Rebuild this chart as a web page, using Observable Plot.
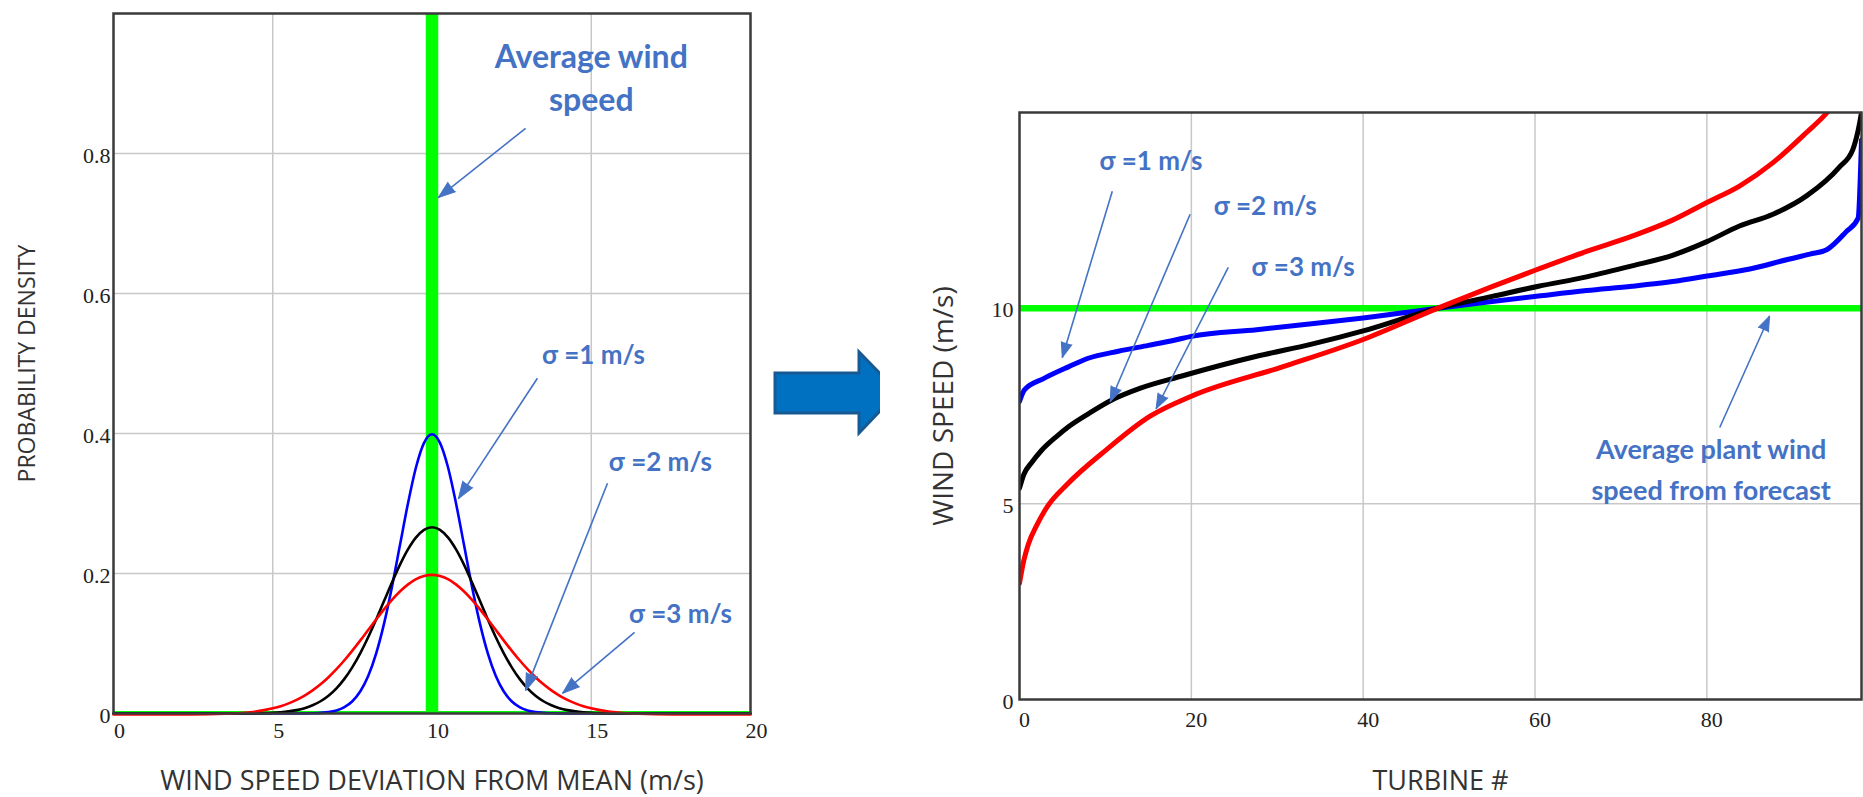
<!DOCTYPE html>
<html>
<head>
<meta charset="utf-8">
<script src="https://cdn.jsdelivr.net/npm/d3@7"></script>
<script src="https://cdn.jsdelivr.net/npm/@observablehq/plot@0.6"></script>
<style>
  html, body { margin: 0; padding: 0; background: #fff; }
  #wrap { position: relative; width: 1863px; height: 797px; overflow: hidden; background: #fff; }
  #left { position: absolute; left: 0; top: 0; }
  #right { position: absolute; left: 880px; top: 0; }
  #bigArrow { position: absolute; left: 760px; top: 340px; }
</style>
</head>
<body>
<div id="wrap">
  <div id="left"></div>
  <div id="bigArrow">
    <svg width="150" height="110" viewBox="0 0 150 110">
      <polygon points="15,33 99,33 99,12 138,52 99,93 99,73 15,73" fill="#0070c0" stroke="#175a93" stroke-width="3" stroke-linejoin="miter"/>
    </svg>
  </div>
  <div id="right"></div>
</div>
<script>
// ---------------- Left chart data: probability density vs wind speed ----------------
const deviationX = [0, 1, 2, 3, 3.5, 4, 4.5,
  5, 5.25, 5.5, 5.75, 6, 6.25, 6.5, 6.75, 7, 7.25, 7.5, 7.75, 8, 8.25, 8.5, 8.75, 9, 9.25, 9.5, 9.75,
  10, 10.25, 10.5, 10.75, 11, 11.25, 11.5, 11.75, 12, 12.25, 12.5, 12.75, 13, 13.25, 13.5, 13.75, 14, 14.25, 14.5, 14.75, 15,
  15.5, 16, 16.5, 17, 18, 19, 20];
const densitySigma1 = [0, 0, 0, 0, 0, 0, 0,
  0, 0, 0, 0.0001, 0.0001, 0.0004, 0.0009, 0.0020, 0.0044, 0.0091, 0.0175, 0.0317, 0.0540, 0.0863, 0.1295, 0.1826, 0.2420, 0.3011, 0.3521, 0.3867,
  0.3989, 0.3867, 0.3521, 0.3011, 0.2420, 0.1826, 0.1295, 0.0863, 0.0540, 0.0317, 0.0175, 0.0091, 0.0044, 0.0020, 0.0009, 0.0004, 0.0001, 0.0001, 0, 0, 0,
  0, 0, 0, 0, 0, 0, 0];
const densitySigma2 = [0, 0, 0, 0, 0, 0.0001, 0.0003,
  0.0010, 0.0018, 0.0030, 0.0048, 0.0076, 0.0117, 0.0175, 0.0254, 0.0360, 0.0495, 0.0663, 0.0863, 0.1093, 0.1347, 0.1613, 0.1879, 0.2130, 0.2347, 0.2516, 0.2623,
  0.2660, 0.2623, 0.2516, 0.2347, 0.2130, 0.1879, 0.1613, 0.1347, 0.1093, 0.0863, 0.0663, 0.0495, 0.0360, 0.0254, 0.0175, 0.0117, 0.0076, 0.0048, 0.0030, 0.0018, 0.0010,
  0.0003, 0.0001, 0, 0, 0, 0, 0];
const densitySigma3 = [0, 0, 0.0001, 0.0004, 0.0010, 0.0022, 0.0045,
  0.0088, 0.0119, 0.0159, 0.0209, 0.0270, 0.0344, 0.0431, 0.0533, 0.0648, 0.0775, 0.0913, 0.1059, 0.1210, 0.1360, 0.1506, 0.1641, 0.1760, 0.1859, 0.1933, 0.1979,
  0.1995, 0.1979, 0.1933, 0.1859, 0.1760, 0.1641, 0.1506, 0.1360, 0.1210, 0.1059, 0.0913, 0.0775, 0.0648, 0.0533, 0.0431, 0.0344, 0.0270, 0.0209, 0.0159, 0.0119, 0.0088,
  0.0045, 0.0022, 0.0010, 0.0004, 0.0001, 0, 0];
const averageWindSpeed = 10;
const leftXTicks = [0, 5, 10, 15, 20];
const leftYTicks = [0, 0.2, 0.4, 0.6, 0.8];
const leftXTitle = "WIND SPEED DEVIATION FROM MEAN (m/s)";
const leftYTitle = "PROBABILITY DENSITY";

// annotation texts (data coordinates of the left chart)
const leftBigNote = [{text: "Average wind\nspeed", x: 15.0, y: 0.861}];
const leftSigmaNotes = [
  {text: "σ =1 m/s", x: 15.07, y: 0.50},
  {text: "σ =2 m/s", x: 17.17, y: 0.346},
  {text: "σ =3 m/s", x: 17.8, y: 0.13}
];
const leftArrows = [
  {x1: 12.94, y1: 0.836, x2: 10.2, y2: 0.737},
  {x1: 13.31, y1: 0.479, x2: 10.83, y2: 0.307},
  {x1: 15.51, y1: 0.329, x2: 12.94, y2: 0.033},
  {x1: 16.36, y1: 0.116, x2: 14.1, y2: 0.029}
];

// ---------------- Right chart data: sorted turbine wind speeds ----------------
const turbineSigma1 = [0, 0.6, 2.8, 5.7, 8, 11.5, 15, 18, 20, 27.6, 34, 40, 48.7, 55, 60.4, 66, 71.3, 76, 80, 85, 89.5, 92, 94, 96.2, 97.6, 98];
const speedSigma1 = [7.62, 7.92, 8.2, 8.5, 8.72, 8.9, 9.05, 9.18, 9.28, 9.45, 9.6, 9.75, 10.0, 10.17, 10.31, 10.45, 10.56, 10.68, 10.82, 11.0, 11.25, 11.38, 11.5, 11.95, 12.3, 14.3];
const turbineSigma2 = [0, 0.5, 1.4, 2.5, 4.3, 5.7, 8, 10.8, 14, 18.8, 27.6, 34, 40, 48.7, 55, 60.4, 66, 71.3, 76, 80, 83.8, 87.7, 91.6, 95.4, 97, 97.8, 98];
const speedSigma2 = [5.4, 5.75, 6.05, 6.35, 6.72, 6.97, 7.3, 7.66, 7.95, 8.26, 8.77, 9.08, 9.42, 10.0, 10.3, 10.56, 10.8, 11.08, 11.35, 11.7, 12.1, 12.4, 12.87, 13.6, 14.06, 14.75, 15];
const turbineSigma3 = [0, 0.5, 1, 2, 3, 5.7, 10.1, 15.2, 20, 30.6, 40, 48.7, 55, 60.4, 66, 71.3, 76, 80, 83.8, 87.7, 91.6, 94, 96];
const speedSigma3 = [2.97, 3.55, 3.95, 4.45, 4.85, 5.53, 6.38, 7.24, 7.75, 8.5, 9.2, 10.0, 10.55, 11.0, 11.45, 11.84, 12.25, 12.7, 13.12, 13.72, 14.49, 15.0, 15.6];
const plantForecastSpeed = 10;
const rightXTicks = [0, 20, 40, 60, 80];
const rightYTicks = [0, 5, 10];
const rightXTitle = "TURBINE #";
const rightYTitle = "WIND SPEED (m/s)";

const rightSigmaNotes = [
  {text: "σ =1 m/s", x: 15.3, y: 13.52},
  {text: "σ =2 m/s", x: 28.6, y: 12.37},
  {text: "σ =3 m/s", x: 33.0, y: 10.83}
];
const rightPlantNote = [{text: "Average plant wind\nspeed from forecast", x: 80.5, y: 5.1}];
const rightArrows = [
  {x1: 10.8, y1: 12.99, x2: 4.98, y2: 8.74},
  {x1: 19.86, y1: 12.4, x2: 10.56, y2: 7.61},
  {x1: 24.3, y1: 11.04, x2: 15.9, y2: 7.43},
  {x1: 81.5, y1: 6.95, x2: 87.3, y2: 9.8}
];

// ---------------- styling ----------------
const GREEN = "#00ff00", BLUE = "#0000ff", RED = "#ff0000", BLACK = "#000000";
const NOTE = "#4472c4";
const GRID = "#c8c8c8";
const TICK_FONT = "'Liberation Serif', 'Times New Roman', serif";
const TITLE_FONT = "'Open Sans', 'Noto Sans', sans-serif";
const NOTE_FONT = "Lato, 'Noto Sans', sans-serif";
const plainNumber = d => String(d);

function series(xs, ys) { return xs.map((x, i) => ({x, y: ys[i]})); }

function heads(arrows, X, Y, length, r) {
  return Plot.vector(arrows, {
    x: "x2", y: "y2",
    rotate: d => {
      const dx = X(d.x2) - X(d.x1), dy = Y(d.y2) - Y(d.y1);
      return Math.atan2(dx, -dy) * 180 / Math.PI;
    },
    length, r, shape: "spike", anchor: "end",
    fill: NOTE, stroke: NOTE, strokeWidth: 1, fillOpacity: 1
  });
}

// ---------------- Left chart ----------------
{
  const W = 780, H = 797, mL = 113, mR = 30, mT = 13, mB = 84;
  const X = d3.scaleLinear([0, 20], [mL, W - mR]);
  const Y = d3.scaleLinear([0, 1], [H - mB, mT]);
  const chart = Plot.plot({
    width: W, height: H,
    marginLeft: mL, marginRight: mR, marginTop: mT, marginBottom: mB,
    style: {fontFamily: TICK_FONT, fontSize: "22px", color: "#222", background: "#fff"},
    x: {domain: [0, 20], label: null},
    y: {domain: [0, 1], label: null},
    marks: [
      Plot.gridX([5, 10, 15], {stroke: GRID, strokeOpacity: 1, strokeWidth: 1.5}),
      Plot.gridY([0.2, 0.4, 0.6, 0.8], {stroke: GRID, strokeOpacity: 1, strokeWidth: 1.5}),
      Plot.ruleX([averageWindSpeed], {stroke: GREEN, strokeWidth: 12.5}),
      Plot.ruleY([0], {stroke: GREEN, strokeWidth: 3, dy: -1}),
      Plot.line(series(deviationX, densitySigma1), {x: "x", y: "y", stroke: BLUE, strokeWidth: 2.6, curve: "monotone-x"}),
      Plot.line(series(deviationX, densitySigma2), {x: "x", y: "y", stroke: BLACK, strokeWidth: 2.6, curve: "monotone-x"}),
      Plot.line(series(deviationX, densitySigma3), {x: "x", y: "y", stroke: RED, strokeWidth: 2.6, curve: "monotone-x", dy: 1}),
      Plot.axisX(leftXTicks, {tickSize: 0, tickPadding: 9, dx: 6, label: null, tickFormat: plainNumber}),
      Plot.axisY(leftYTicks, {tickSize: 0, tickPadding: 3, dy: 2, label: null, tickFormat: plainNumber}),
      Plot.frame({stroke: "#3a3a3a", strokeWidth: 2.5}),
      Plot.text([leftXTitle], {text: d => d, frameAnchor: "bottom", textAnchor: "middle", dy: 76, lineAnchor: "bottom", fontFamily: TITLE_FONT, fontSize: 27, fill: "#333"}),
      Plot.text([leftYTitle], {text: d => d, frameAnchor: "left", textAnchor: "middle", dx: -86, rotate: -90, lineAnchor: "middle", fontFamily: TITLE_FONT, fontSize: 23, fill: "#333"}),
      Plot.link(leftArrows, {x1: "x1", y1: "y1", x2: "x2", y2: "y2", stroke: NOTE, strokeWidth: 1.6}),
      heads(leftArrows, X, Y, 17, 6),
      Plot.text(leftBigNote, {x: "x", y: "y", text: "text", fill: NOTE, fontFamily: NOTE_FONT, fontWeight: "bold", fontSize: 32, lineAnchor: "bottom", lineHeight: 1.34}),
      Plot.text(leftSigmaNotes, {x: "x", y: "y", text: "text", fill: NOTE, fontFamily: NOTE_FONT, fontWeight: "bold", fontSize: 26, lineAnchor: "bottom"})
    ]
  });
  document.getElementById("left").append(chart);
}

// ---------------- Right chart ----------------
{
  const W = 983, H = 797, mL = 139, mR = 2, mT = 112, mB = 98;
  const X = d3.scaleLinear([0, 98], [mL, W - mR]);
  const Y = d3.scaleLinear([0, 15], [H - mB, mT]);
  const chart = Plot.plot({
    width: W, height: H,
    marginLeft: mL, marginRight: mR, marginTop: mT, marginBottom: mB,
    style: {fontFamily: TICK_FONT, fontSize: "22px", color: "#222", background: "#fff"},
    x: {domain: [0, 98], label: null},
    y: {domain: [0, 15], label: null},
    marks: [
      Plot.gridX([20, 40, 60, 80], {stroke: GRID, strokeOpacity: 1, strokeWidth: 1.5}),
      Plot.gridY([5, 10], {stroke: GRID, strokeOpacity: 1, strokeWidth: 1.5}),
      Plot.ruleY([plantForecastSpeed], {stroke: GREEN, strokeWidth: 6.5}),
      Plot.line(series(turbineSigma1, speedSigma1), {x: "x", y: "y", stroke: BLUE, strokeWidth: 5, curve: "monotone-x", clip: true}),
      Plot.line(series(turbineSigma2, speedSigma2), {x: "x", y: "y", stroke: BLACK, strokeWidth: 5, curve: "monotone-x", clip: true}),
      Plot.line(series(turbineSigma3, speedSigma3), {x: "x", y: "y", stroke: RED, strokeWidth: 5, curve: "monotone-x", clip: true}),
      Plot.axisX(rightXTicks, {tickSize: 0, tickPadding: 12, dx: 5, label: null, tickFormat: plainNumber}),
      Plot.axisY(rightYTicks, {tickSize: 0, tickPadding: 6, dy: 2, label: null, tickFormat: plainNumber}),
      Plot.frame({stroke: "#3a3a3a", strokeWidth: 2.5}),
      Plot.text([rightXTitle], {text: d => d, frameAnchor: "bottom", textAnchor: "middle", dy: 90, lineAnchor: "bottom", fontFamily: TITLE_FONT, fontSize: 27, fill: "#333"}),
      Plot.text([rightYTitle], {text: d => d, frameAnchor: "left", textAnchor: "middle", dx: -75, rotate: -90, lineAnchor: "middle", fontFamily: TITLE_FONT, fontSize: 28, fill: "#333"}),
      Plot.link(rightArrows, {x1: "x1", y1: "y1", x2: "x2", y2: "y2", stroke: NOTE, strokeWidth: 1.6}),
      heads(rightArrows, X, Y, 15, 5.5),
      Plot.text(rightSigmaNotes, {x: "x", y: "y", text: "text", fill: NOTE, fontFamily: NOTE_FONT, fontWeight: "bold", fontSize: 26, lineAnchor: "bottom"}),
      Plot.text(rightPlantNote, {x: "x", y: "y", text: "text", fill: NOTE, fontFamily: NOTE_FONT, fontWeight: "bold", fontSize: 27, lineAnchor: "bottom", lineHeight: 1.5})
    ]
  });
  document.getElementById("right").append(chart);
}
</script>
</body>
</html>
